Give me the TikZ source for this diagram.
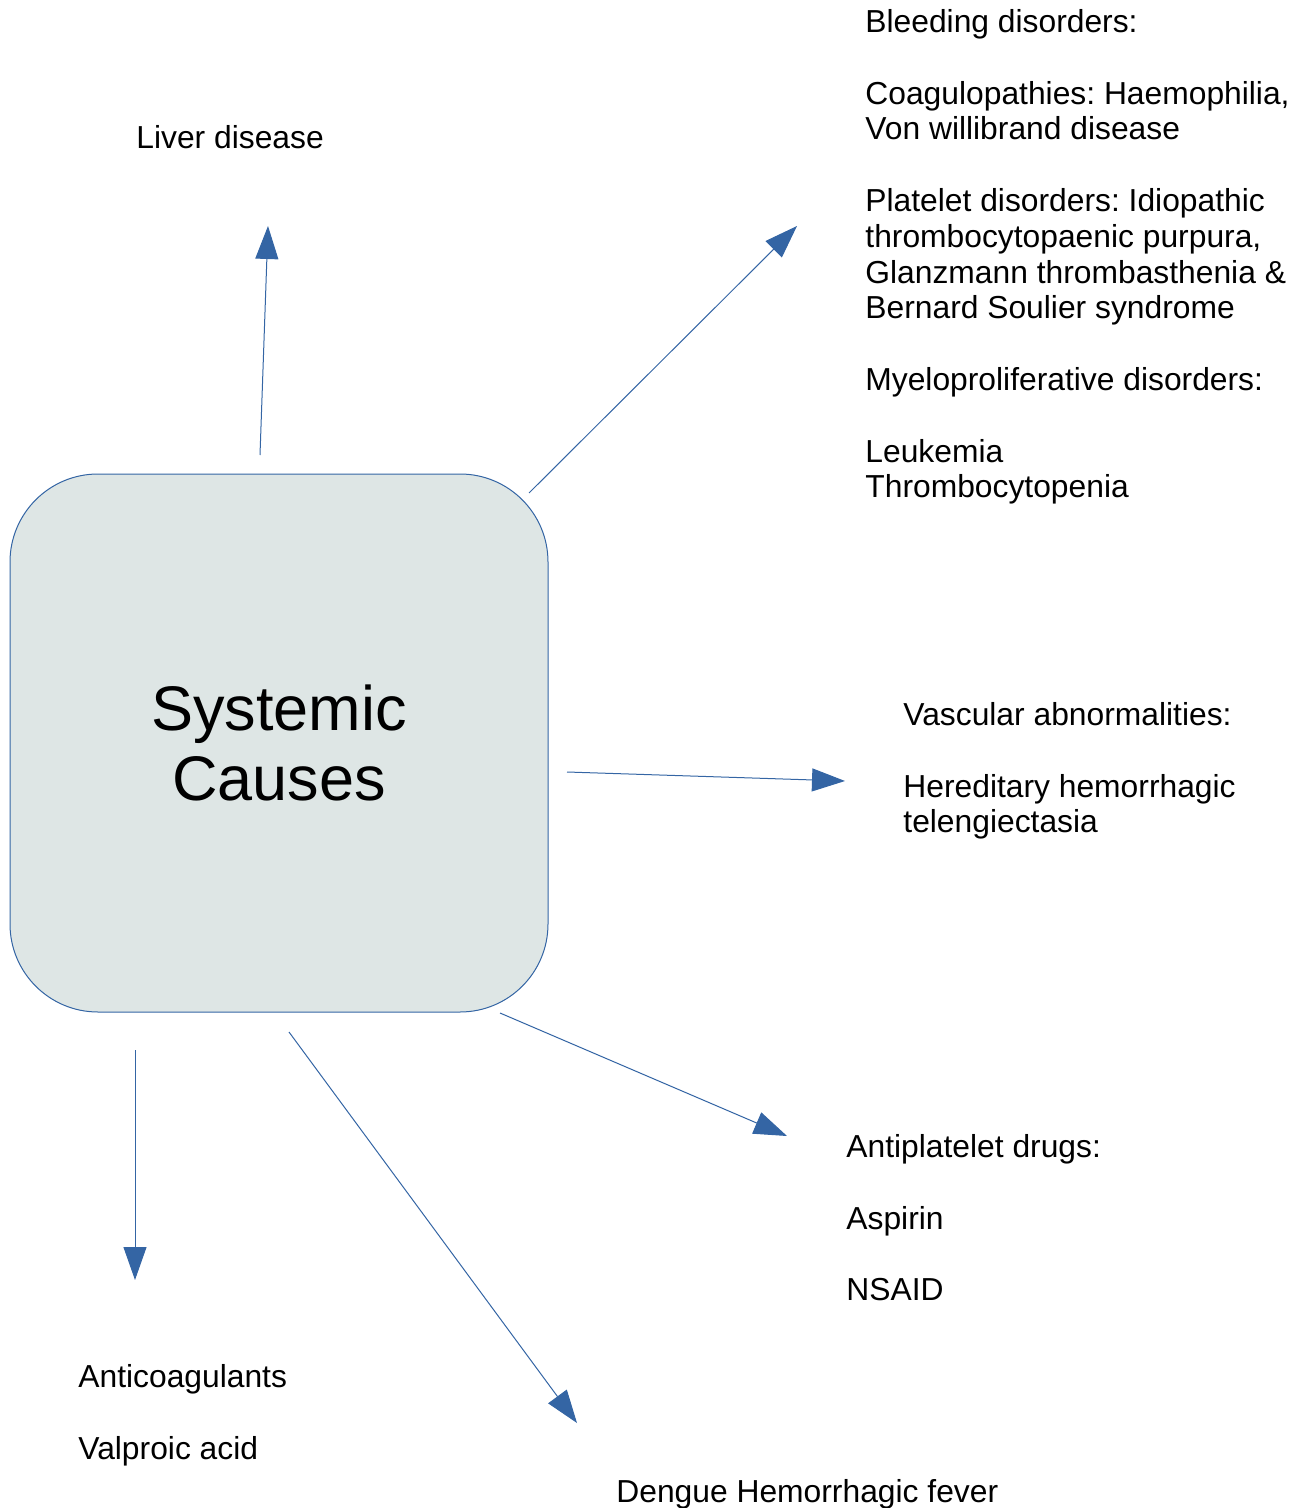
\documentclass[tikz,border=0pt]{standalone}
\usepackage{fontspec}
\setmainfont{Liberation Sans}
\frenchspacing
\usetikzlibrary{arrows.meta}
\definecolor{causeblue}{HTML}{3465A4}
\definecolor{causefill}{HTML}{DEE6E5}

\begin{document}
\begin{tikzpicture}[x=0.5pt,y=-0.5pt,
    causebox/.style={draw=causeblue,fill=causefill,line width=0.5pt,rounded corners=44pt,
      minimum width=269pt,minimum height=269pt,align=center,
      font=\fontsize{31.5}{35}\selectfont},
    causetext/.style={anchor=north west,inner sep=0pt,align=left,
      font=\fontsize{15.9}{17.9}\selectfont},
    causearrow/.style={draw=causeblue,line width=0.5pt,
      -{Triangle[length=16.5pt,width=11.5pt]}}]
            \useasboundingbox (0,0) rectangle (1298,1508);
            \node[causebox] (sys) at (279,743) {Systemic\\Causes};
            % texts round the box
            \node[causetext] (liver) at (136,125) {Liver disease};
            \node[causetext] (bleed) at (865,9) {Bleeding disorders:\\[17.9pt]
              Coagulopathies: Haemophilia,\\Von willibrand disease\\[17.9pt]
              Platelet disorders: Idiopathic\\thrombocytopaenic purpura,\\
              Glanzmann thrombasthenia \&\\Bernard Soulier syndrome\\[17.9pt]
              Myeloproliferative disorders:\\[17.9pt]
              Leukemia\\Thrombocytopenia};
            \node[causetext] (vasc) at (903,702) {Vascular abnormalities:\\[17.9pt]
              Hereditary hemorrhagic\\telengiectasia};
            \node[causetext] (antipl) at (846,1134) {Antiplatelet drugs:\\[17.9pt]
              Aspirin\\[17.9pt]NSAID};
            \node[causetext] (anticoag) at (78,1364) {Anticoagulants\\[17.9pt]Valproic acid};
            \node[causetext] (dengue) at (616,1479) {Dengue Hemorrhagic fever};
            % arrow ends
            \coordinate (liver-s) at (260,455);
            \coordinate (liver-e) at (268,226);
            \coordinate (bleed-s) at (529,493);
            \coordinate (bleed-e) at (797,226);
            \coordinate (vasc-s) at (567,772);
            \coordinate (vasc-e) at (845,781);
            \coordinate (antipl-s) at (500,1013);
            \coordinate (antipl-e) at (787,1136);
            \coordinate (dengue-s) at (289,1032);
            \coordinate (dengue-e) at (577,1423);
            \coordinate (anticoag-s) at (135,1050);
            \coordinate (anticoag-e) at (135,1280);
            \draw[causearrow] (liver-s)--(liver-e);
            \draw[causearrow] (bleed-s)--(bleed-e);
            \draw[causearrow] (vasc-s)--(vasc-e);
            \draw[causearrow] (antipl-s)--(antipl-e);
            \draw[causearrow] (dengue-s)--(dengue-e);
            \draw[causearrow] (anticoag-s)--(anticoag-e);
\end{tikzpicture}
\end{document}
